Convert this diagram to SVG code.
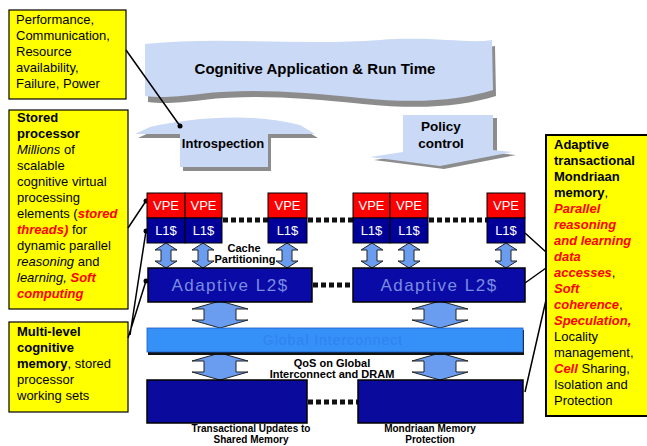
<svg xmlns="http://www.w3.org/2000/svg" width="647" height="446" viewBox="0 0 647 446">
<defs>
<style>
text{font-family:"Liberation Sans",Arial,sans-serif}
.note{fill:#ffff00;stroke:#000;stroke-width:1.2}
.nt{font-size:13px;fill:#000}
.b{font-weight:bold}
.r{fill:#ff0000;font-weight:bold;font-style:italic}
.i{font-style:italic}
.sky{fill:#cad9f5}
.shd{fill:#8c8c8c}
.vpe{fill:#ff0000;stroke:#000;stroke-width:1}
.l1{fill:#000099;stroke:#000;stroke-width:1}
.wt{fill:#fff;font-size:13px;text-anchor:middle}
.l2{fill:#0a0aa6;stroke:#000;stroke-width:1.5}
.lt{fill:#7b8be0;font-size:17px;text-anchor:middle;letter-spacing:1.5px}
.dots{stroke:#111;stroke-width:5;stroke-dasharray:5 3;fill:none}
.arr{fill:#6a9cf0;stroke:#222;stroke-width:1}
.lab{font-size:11px;font-weight:bold;text-anchor:middle}
.lab2{font-size:10px;font-weight:bold;text-anchor:middle}
.call{stroke:#000;stroke-width:1.5;fill:none}
</style>
<path id="sa" d="M-11,0 L0,-7 L11,0 L5,0 L5,11 L11,11 L0,18 L-11,11 L-5,11 L-5,0 Z"/>
<path id="ba" d="M-28,8 L0,0 L28,8 L16,8 L16,19 L28,19 L0,27 L-28,19 L-16,19 L-16,8 Z"/>
</defs>
<rect width="647" height="446" fill="#fff"/>

<g id="cloud">
<path class="shd" transform="translate(3,6)" d="M145,44 C220,36 300,46 380,40 C430,36 470,44 492,40 L493,90 C460,100 420,104 360,98 C300,92 250,88 200,94 C175,97 160,98 145,96 Z"/>
<path class="sky" d="M145,44 C220,36 300,46 380,40 C430,36 470,44 492,40 L493,90 C460,100 420,104 360,98 C300,92 250,88 200,94 C175,97 160,98 145,96 Z"/>
<text x="315" y="74" font-size="15" font-weight="bold" text-anchor="middle">Cognitive Application &amp; Run Time</text>
</g>

<g id="introspection">
<path class="shd" transform="translate(3,4)" d="M135,134 L150,127 C190,118 250,112 300,125 L315,134 L268,134 L268,167 L180,167 L180,134 Z"/>
<path class="sky" d="M135,134 L150,127 C190,118 250,112 300,125 L315,134 L268,134 L268,167 L180,167 L180,134 Z"/>
<text x="223" y="148" font-size="13" font-weight="bold" text-anchor="middle">Introspection</text>
</g>

<g id="policy">
<path class="shd" transform="translate(4,3)" d="M403,115 L493,115 L493,150 L512,152 L440,166 L370,157 L403,152 Z"/>
<path class="sky" d="M403,115 L493,115 L493,150 L512,152 L440,166 L370,157 L403,152 Z"/>
<text x="441" y="131" font-size="13.5" font-weight="bold" text-anchor="middle">Policy</text>
<text x="441" y="148" font-size="13.5" font-weight="bold" text-anchor="middle">control</text>
</g>

<g id="note1">
<rect class="note" x="9" y="10" width="117" height="89"/>
<text class="nt" x="16" y="24">Performance,</text>
<text class="nt" x="16" y="40">Communication,</text>
<text class="nt" x="16" y="56">Resource</text>
<text class="nt" x="16" y="72">availability,</text>
<text class="nt" x="16" y="88">Failure, Power</text>
</g>

<g id="note2">
<rect class="note" x="9" y="110" width="119" height="199"/>
<text class="nt" x="17" y="122"><tspan class="b">Stored</tspan></text>
<text class="nt" x="17" y="138"><tspan class="b">processor</tspan></text>
<text class="nt" x="17" y="154"><tspan class="i">Millions</tspan> of</text>
<text class="nt" x="17" y="170">scalable</text>
<text class="nt" x="17" y="186">cognitive virtual</text>
<text class="nt" x="17" y="202">processing</text>
<text class="nt" x="17" y="218">elements (<tspan class="r">stored</tspan></text>
<text class="nt" x="17" y="234"><tspan class="r">threads)</tspan> for</text>
<text class="nt" x="17" y="250">dynamic parallel</text>
<text class="nt" x="17" y="266"><tspan class="i">reasoning</tspan> and</text>
<text class="nt" x="17" y="282"><tspan class="i">learning,</tspan> <tspan class="r">Soft</tspan></text>
<text class="nt" x="17" y="298"><tspan class="r">computing</tspan></text>
</g>

<g id="note3">
<rect class="note" x="9" y="322" width="119" height="90"/>
<text class="nt" x="17" y="336"><tspan class="b">Multi-level</tspan></text>
<text class="nt" x="17" y="352"><tspan class="b">cognitive</tspan></text>
<text class="nt" x="17" y="368"><tspan class="b">memory</tspan>, stored</text>
<text class="nt" x="17" y="384">processor</text>
<text class="nt" x="17" y="400">working sets</text>
</g>

<g id="note4">
<rect x="546" y="135" width="104" height="281" fill="#ffff00" stroke="#000" stroke-width="2"/>
<text class="nt" x="554" y="149"><tspan class="b">Adaptive</tspan></text>
<text class="nt" x="554" y="165"><tspan class="b">transactional</tspan></text>
<text class="nt" x="554" y="181"><tspan class="b">Mondriaan</tspan></text>
<text class="nt" x="554" y="197"><tspan class="b">memory</tspan>,</text>
<text class="nt" x="554" y="213"><tspan class="r">Parallel</tspan></text>
<text class="nt" x="554" y="229"><tspan class="r">reasoning</tspan></text>
<text class="nt" x="554" y="245"><tspan class="r">and learning</tspan></text>
<text class="nt" x="554" y="261"><tspan class="r">data</tspan></text>
<text class="nt" x="554" y="277"><tspan class="r">accesses</tspan>,</text>
<text class="nt" x="554" y="293"><tspan class="r">Soft</tspan></text>
<text class="nt" x="554" y="309"><tspan class="r">coherence</tspan>,</text>
<text class="nt" x="554" y="325"><tspan class="r">Speculation,</tspan></text>
<text class="nt" x="554" y="341">Locality</text>
<text class="nt" x="554" y="357">management,</text>
<text class="nt" x="554" y="373"><tspan class="r">Cell</tspan> Sharing,</text>
<text class="nt" x="554" y="389">Isolation and</text>
<text class="nt" x="554" y="405">Protection</text>
</g>

<g id="connectors">
<path class="dots" d="M223,220 H268 M308,220 H353 M429,220 H487 M313,285 H353 M308,402 H358"/>
<g class="arr">
<use href="#sa" x="166" y="250"/>
<use href="#sa" x="203" y="250"/>
<use href="#sa" x="287" y="250"/>
<use href="#sa" x="372" y="250"/>
<use href="#sa" x="409" y="250"/>
<use href="#sa" x="506" y="250"/>
<use href="#ba" x="220" y="301"/>
<use href="#ba" x="440" y="301"/>
<use href="#ba" x="220" y="353"/>
<use href="#ba" x="440" y="353"/>
</g>
<path class="call" d="M126,50 L180,126 M128,228 L146,201 M130,335 L146,231 M128,338 L146,281 M546,252 L525,233 M546,268 L525,283 M546,300 L525,392"/>
<g fill="#000">
<circle cx="180" cy="126" r="2.5"/>
<circle cx="146" cy="201" r="2.5"/>
<circle cx="146" cy="231" r="2.5"/>
<circle cx="146" cy="281" r="2.5"/>
</g>
</g>

<g id="vpe1"><rect class="vpe" x="147" y="193" width="38" height="25"/><text class="wt" x="166" y="210">VPE</text></g>
<g id="vpe2"><rect class="vpe" x="185" y="193" width="37" height="25"/><text class="wt" x="203.5" y="210">VPE</text></g>
<g id="vpe3"><rect class="vpe" x="268" y="193" width="39" height="25"/><text class="wt" x="287.5" y="210">VPE</text></g>
<g id="vpe4"><rect class="vpe" x="353" y="193" width="37" height="25"/><text class="wt" x="371.5" y="210">VPE</text></g>
<g id="vpe5"><rect class="vpe" x="390" y="193" width="38" height="25"/><text class="wt" x="409" y="210">VPE</text></g>
<g id="vpe6"><rect class="vpe" x="487" y="193" width="38" height="25"/><text class="wt" x="506" y="210">VPE</text></g>

<g id="l1a"><rect class="l1" x="147" y="218" width="38" height="25"/><text class="wt" x="166" y="235">L1$</text></g>
<g id="l1b"><rect class="l1" x="185" y="218" width="37" height="25"/><text class="wt" x="203.5" y="235">L1$</text></g>
<g id="l1c"><rect class="l1" x="268" y="218" width="39" height="25"/><text class="wt" x="287.5" y="235">L1$</text></g>
<g id="l1d"><rect class="l1" x="353" y="218" width="37" height="25"/><text class="wt" x="371.5" y="235">L1$</text></g>
<g id="l1e"><rect class="l1" x="390" y="218" width="38" height="25"/><text class="wt" x="409" y="235">L1$</text></g>
<g id="l1f"><rect class="l1" x="487" y="218" width="38" height="25"/><text class="wt" x="506" y="235">L1$</text></g>

<g id="cachepart">
<text x="244" y="252" font-size="11" font-weight="bold" text-anchor="middle">Cache</text>
<text x="245" y="263" font-size="11" font-weight="bold" text-anchor="middle">Partitioning</text>
</g>

<g id="l2left"><rect class="l2" x="148" y="268" width="164" height="34"/><text class="lt" x="230" y="291">Adaptive L2$</text></g>
<g id="l2right"><rect class="l2" x="353" y="268" width="172" height="34"/><text class="lt" x="439" y="291">Adaptive L2$</text></g>

<g id="global">
<rect x="148" y="330" width="376" height="25" fill="#111"/>
<rect x="147" y="328" width="376" height="24" fill="#3590f8" stroke="#1d5fc0" stroke-width="0.8"/>
<text x="333" y="345" font-size="14" fill="#2f84ee" text-anchor="middle" letter-spacing="1">Global Interconnect</text>
</g>

<g id="qos">
<text class="lab" x="332" y="367">QoS on Global</text>
<text class="lab" x="332" y="378">Interconnect and DRAM</text>
</g>

<g id="memleft">
<rect x="147" y="380" width="160" height="43" fill="#0a0a9c" stroke="#000" stroke-width="1.5"/>
<text class="lab2" x="251" y="431.5">Transactional Updates to</text>
<text class="lab2" x="251" y="443">Shared Memory</text>
</g>
<g id="memright">
<rect x="358" y="380" width="165" height="43" fill="#0a0a9c" stroke="#000" stroke-width="1.5"/>
<text class="lab2" x="430" y="431.5">Mondriaan Memory</text>
<text class="lab2" x="430" y="443">Protection</text>
</g>
</svg>
